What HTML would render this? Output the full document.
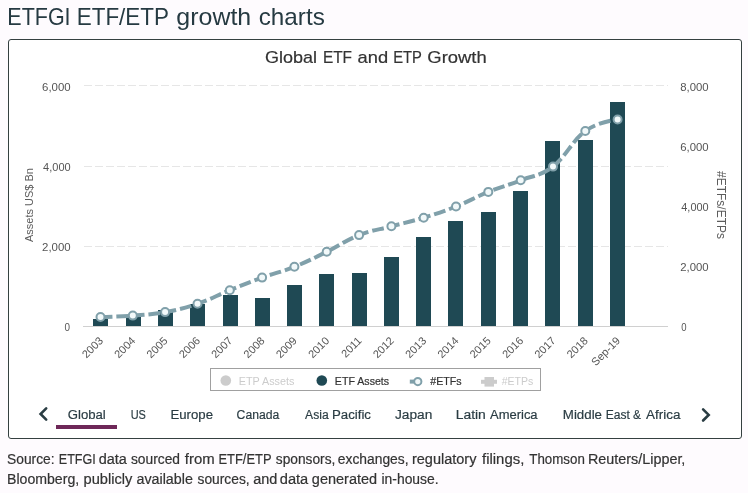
<!DOCTYPE html>
<html>
<head>
<meta charset="utf-8">
<style>
html,body{margin:0;padding:0;}
body{width:748px;height:493px;overflow:hidden;background:#fefbfe;position:relative;}
#box{position:absolute;left:8px;top:39px;width:732px;height:398px;border:1px solid #354040;border-radius:3px;background:#ffffff;}
svg{position:absolute;left:0;top:0;will-change:transform;font-family:"Liberation Sans",sans-serif;}
</style>
</head>
<body>
<div id="box"></div>
<svg width="748" height="493" viewBox="0 0 748 493">
<line x1="84" y1="85.5" x2="668" y2="85.5" stroke="#e6e6e6" stroke-width="1" stroke-dasharray="8,3"/>
<line x1="84" y1="166.5" x2="668" y2="166.5" stroke="#e6e6e6" stroke-width="1" stroke-dasharray="8,3"/>
<line x1="84" y1="246.5" x2="668" y2="246.5" stroke="#e6e6e6" stroke-width="1" stroke-dasharray="8,3"/>
<line x1="83" y1="326.5" x2="668" y2="326.5" stroke="#d0d0d0" stroke-width="1"/>
<rect x="93.0" y="319" width="15" height="7.0" fill="#1f4954"/>
<rect x="126.0" y="315" width="15" height="11.0" fill="#1f4954"/>
<rect x="158.0" y="310" width="15" height="16.0" fill="#1f4954"/>
<rect x="190.0" y="304" width="15" height="22.0" fill="#1f4954"/>
<rect x="223.0" y="295" width="15" height="31.0" fill="#1f4954"/>
<rect x="255.0" y="298" width="15" height="28.0" fill="#1f4954"/>
<rect x="287.0" y="285" width="15" height="41.0" fill="#1f4954"/>
<rect x="319.0" y="274" width="15" height="52.0" fill="#1f4954"/>
<rect x="352.0" y="273" width="15" height="53.0" fill="#1f4954"/>
<rect x="384.0" y="257" width="15" height="69.0" fill="#1f4954"/>
<rect x="416.0" y="237" width="15" height="89.0" fill="#1f4954"/>
<rect x="448.0" y="221" width="15" height="105.0" fill="#1f4954"/>
<rect x="481.0" y="212" width="15" height="114.0" fill="#1f4954"/>
<rect x="513.0" y="191" width="15" height="135.0" fill="#1f4954"/>
<rect x="545.0" y="141" width="15" height="185.0" fill="#1f4954"/>
<rect x="578.0" y="140" width="15" height="186.0" fill="#1f4954"/>
<rect x="610.0" y="102" width="15" height="224.0" fill="#1f4954"/>
<path fill="none" stroke="#80a0aa" stroke-width="4" stroke-dasharray="12,4" d="M 100.50 317.00 C 100.50 317.00 119.89 316.58 132.82 315.60 C 145.75 314.62 152.21 314.46 165.14 312.10 C 178.07 309.74 184.53 308.18 197.46 303.80 C 210.39 299.42 216.85 295.44 229.78 290.20 C 242.71 284.96 249.17 282.28 262.10 277.60 C 275.03 272.92 281.49 271.96 294.42 266.80 C 307.35 261.64 313.81 258.14 326.74 251.80 C 339.67 245.46 346.13 240.20 359.06 235.10 C 371.99 230.00 378.45 229.78 391.38 226.30 C 404.31 222.82 410.77 221.66 423.70 217.70 C 436.63 213.74 443.09 211.66 456.02 206.50 C 468.95 201.34 475.41 197.14 488.34 191.90 C 501.27 186.66 507.73 185.36 520.66 180.30 C 533.59 175.24 540.05 176.46 552.98 166.60 C 565.91 156.74 572.37 140.42 585.30 131.00 C 598.23 121.58 617.62 119.50 617.62 119.50"/>
<circle cx="100.5" cy="317" r="4" fill="#f2f9fa" stroke="#80a0aa" stroke-width="2"/>
<circle cx="132.8" cy="315.6" r="4" fill="#f2f9fa" stroke="#80a0aa" stroke-width="2"/>
<circle cx="165.1" cy="312.1" r="4" fill="#f2f9fa" stroke="#80a0aa" stroke-width="2"/>
<circle cx="197.5" cy="303.8" r="4" fill="#f2f9fa" stroke="#80a0aa" stroke-width="2"/>
<circle cx="229.8" cy="290.2" r="4" fill="#f2f9fa" stroke="#80a0aa" stroke-width="2"/>
<circle cx="262.1" cy="277.6" r="4" fill="#f2f9fa" stroke="#80a0aa" stroke-width="2"/>
<circle cx="294.4" cy="266.8" r="4" fill="#f2f9fa" stroke="#80a0aa" stroke-width="2"/>
<circle cx="326.7" cy="251.8" r="4" fill="#f2f9fa" stroke="#80a0aa" stroke-width="2"/>
<circle cx="359.1" cy="235.1" r="4" fill="#f2f9fa" stroke="#80a0aa" stroke-width="2"/>
<circle cx="391.4" cy="226.3" r="4" fill="#f2f9fa" stroke="#80a0aa" stroke-width="2"/>
<circle cx="423.7" cy="217.7" r="4" fill="#f2f9fa" stroke="#80a0aa" stroke-width="2"/>
<circle cx="456.0" cy="206.5" r="4" fill="#f2f9fa" stroke="#80a0aa" stroke-width="2"/>
<circle cx="488.3" cy="191.9" r="4" fill="#f2f9fa" stroke="#80a0aa" stroke-width="2"/>
<circle cx="520.7" cy="180.3" r="4" fill="#f2f9fa" stroke="#80a0aa" stroke-width="2"/>
<circle cx="553.0" cy="166.6" r="4" fill="#f2f9fa" stroke="#80a0aa" stroke-width="2"/>
<circle cx="585.3" cy="131" r="4" fill="#f2f9fa" stroke="#80a0aa" stroke-width="2"/>
<circle cx="617.6" cy="119.5" r="4" fill="#f2f9fa" stroke="#80a0aa" stroke-width="2"/>
<text font-size="11" fill="#5c5c5c" text-anchor="middle" transform="translate(33,205) rotate(-90)">Assets US$ Bn</text>
<text font-size="12" fill="#5c5c5c" text-anchor="middle" transform="translate(717,205) rotate(90)">#ETFs/ETPs</text>
<text font-size="11" fill="#555555" text-anchor="end" transform="translate(103.8,341.4) rotate(-45)">2003</text>
<text font-size="11" fill="#555555" text-anchor="end" transform="translate(136.1,341.4) rotate(-45)">2004</text>
<text font-size="11" fill="#555555" text-anchor="end" transform="translate(168.4,341.4) rotate(-45)">2005</text>
<text font-size="11" fill="#555555" text-anchor="end" transform="translate(200.8,341.4) rotate(-45)">2006</text>
<text font-size="11" fill="#555555" text-anchor="end" transform="translate(233.1,341.4) rotate(-45)">2007</text>
<text font-size="11" fill="#555555" text-anchor="end" transform="translate(265.4,341.4) rotate(-45)">2008</text>
<text font-size="11" fill="#555555" text-anchor="end" transform="translate(297.7,341.4) rotate(-45)">2009</text>
<text font-size="11" fill="#555555" text-anchor="end" transform="translate(330.0,341.4) rotate(-45)">2010</text>
<text font-size="11" fill="#555555" text-anchor="end" transform="translate(362.4,341.4) rotate(-45)">2011</text>
<text font-size="11" fill="#555555" text-anchor="end" transform="translate(394.7,341.4) rotate(-45)">2012</text>
<text font-size="11" fill="#555555" text-anchor="end" transform="translate(427.0,341.4) rotate(-45)">2013</text>
<text font-size="11" fill="#555555" text-anchor="end" transform="translate(459.3,341.4) rotate(-45)">2014</text>
<text font-size="11" fill="#555555" text-anchor="end" transform="translate(491.6,341.4) rotate(-45)">2015</text>
<text font-size="11" fill="#555555" text-anchor="end" transform="translate(524.0,341.4) rotate(-45)">2016</text>
<text font-size="11" fill="#555555" text-anchor="end" transform="translate(556.3,341.4) rotate(-45)">2017</text>
<text font-size="11" fill="#555555" text-anchor="end" transform="translate(588.6,341.4) rotate(-45)">2018</text>
<text font-size="11" fill="#555555" text-anchor="end" transform="translate(620.9,341.4) rotate(-45)">Sep-19</text>
<rect x="210.5" y="368.5" width="330" height="22" fill="none" stroke="#a0a0a0" stroke-width="1"/>
<circle cx="225.8" cy="380.5" r="5.3" fill="#cccccc"/>
<circle cx="321.8" cy="380.5" r="5.3" fill="#1f4954"/>
<line x1="409.8" y1="381.6" x2="425.8" y2="381.6" stroke="#80a0aa" stroke-width="4" stroke-dasharray="12,4"/>
<circle cx="417.8" cy="381.6" r="3.6" fill="#f2f9fa" stroke="#80a0aa" stroke-width="2"/>
<line x1="481" y1="381.8" x2="497" y2="381.8" stroke="#cccccc" stroke-width="4"/>
<rect x="484.5" y="377" width="9.5" height="9.6" fill="#cccccc"/>
<rect x="56" y="425" width="61" height="4" fill="#6e2758"/>
<polyline points="46.2,408.4 40.6,414 46.2,419.6" fill="none" stroke="#2a3d43" stroke-width="2.6" stroke-linecap="round"/>
<polyline points="703.1,409.3 708.7,414.9 703.1,420.5" fill="none" stroke="#2a3d43" stroke-width="2.6" stroke-linecap="round"/>
<text x="7.31" y="25" font-size="24" fill="#263a42" textLength="63.28" lengthAdjust="spacingAndGlyphs">ETFGI</text>
<text x="76.73" y="25" font-size="24" fill="#263a42" textLength="92.23" lengthAdjust="spacingAndGlyphs">ETF/ETP</text>
<text x="176.36" y="25" font-size="24" fill="#263a42" textLength="74.83" lengthAdjust="spacingAndGlyphs">growth</text>
<text x="258.69" y="25" font-size="24" fill="#263a42" textLength="66.09" lengthAdjust="spacingAndGlyphs">charts</text>
<text x="264.94" y="63.2" font-size="17" fill="#333333" stroke="#333333" stroke-width="0.2" textLength="51.96" lengthAdjust="spacingAndGlyphs">Global</text>
<text x="322.89" y="63.2" font-size="17" fill="#333333" stroke="#333333" stroke-width="0.2" textLength="29.11" lengthAdjust="spacingAndGlyphs">ETF</text>
<text x="357.52" y="63.2" font-size="17" fill="#333333" stroke="#333333" stroke-width="0.2" textLength="30.56" lengthAdjust="spacingAndGlyphs">and</text>
<text x="393.13" y="63.2" font-size="17" fill="#333333" stroke="#333333" stroke-width="0.2" textLength="28.69" lengthAdjust="spacingAndGlyphs">ETP</text>
<text x="427.32" y="63.2" font-size="17" fill="#333333" stroke="#333333" stroke-width="0.2" textLength="59.35" lengthAdjust="spacingAndGlyphs">Growth</text>
<text x="67.74" y="418.7" font-size="13.7" fill="#2a3c43" stroke="#2a3c43" stroke-width="0.2" textLength="38.02" lengthAdjust="spacingAndGlyphs">Global</text>
<text x="130.70" y="418.7" font-size="13.7" fill="#2a3c43" stroke="#2a3c43" stroke-width="0.2" textLength="15.21" lengthAdjust="spacingAndGlyphs">US</text>
<text x="170.44" y="418.7" font-size="13.7" fill="#2a3c43" stroke="#2a3c43" stroke-width="0.2" textLength="42.56" lengthAdjust="spacingAndGlyphs">Europe</text>
<text x="236.61" y="418.7" font-size="13.7" fill="#2a3c43" stroke="#2a3c43" stroke-width="0.2" textLength="42.65" lengthAdjust="spacingAndGlyphs">Canada</text>
<text x="305.10" y="418.7" font-size="13.7" fill="#2a3c43" stroke="#2a3c43" stroke-width="0.2" textLength="23.57" lengthAdjust="spacingAndGlyphs">Asia</text>
<text x="332.03" y="418.7" font-size="13.7" fill="#2a3c43" stroke="#2a3c43" stroke-width="0.2" textLength="38.98" lengthAdjust="spacingAndGlyphs">Pacific</text>
<text x="395.00" y="418.7" font-size="13.7" fill="#2a3c43" stroke="#2a3c43" stroke-width="0.2" textLength="37.30" lengthAdjust="spacingAndGlyphs">Japan</text>
<text x="455.69" y="418.7" font-size="13.7" fill="#2a3c43" stroke="#2a3c43" stroke-width="0.2" textLength="30.11" lengthAdjust="spacingAndGlyphs">Latin</text>
<text x="490.00" y="418.7" font-size="13.7" fill="#2a3c43" stroke="#2a3c43" stroke-width="0.2" textLength="47.59" lengthAdjust="spacingAndGlyphs">America</text>
<text x="562.83" y="418.7" font-size="13.7" fill="#2a3c43" stroke="#2a3c43" stroke-width="0.2" textLength="39.19" lengthAdjust="spacingAndGlyphs">Middle</text>
<text x="605.72" y="418.7" font-size="13.7" fill="#2a3c43" stroke="#2a3c43" stroke-width="0.2" textLength="24.12" lengthAdjust="spacingAndGlyphs">East</text>
<text x="633.04" y="418.7" font-size="13.7" fill="#2a3c43" stroke="#2a3c43" stroke-width="0.2" textLength="7.88" lengthAdjust="spacingAndGlyphs">&amp;</text>
<text x="646.00" y="418.7" font-size="13.7" fill="#2a3c43" stroke="#2a3c43" stroke-width="0.2" textLength="34.40" lengthAdjust="spacingAndGlyphs">Africa</text>
<text x="7.02" y="463.8" font-size="14" fill="#333333" stroke="#333333" stroke-width="0.2" textLength="47.52" lengthAdjust="spacingAndGlyphs">Source:</text>
<text x="58.80" y="463.8" font-size="14" fill="#333333" stroke="#333333" stroke-width="0.2" textLength="37.01" lengthAdjust="spacingAndGlyphs">ETFGI</text>
<text x="98.77" y="463.8" font-size="14" fill="#333333" stroke="#333333" stroke-width="0.2" textLength="28.09" lengthAdjust="spacingAndGlyphs">data</text>
<text x="130.91" y="463.8" font-size="14" fill="#333333" stroke="#333333" stroke-width="0.2" textLength="49.09" lengthAdjust="spacingAndGlyphs">sourced</text>
<text x="184.80" y="463.8" font-size="14" fill="#333333" stroke="#333333" stroke-width="0.2" textLength="29.87" lengthAdjust="spacingAndGlyphs">from</text>
<text x="218.48" y="463.8" font-size="14" fill="#333333" stroke="#333333" stroke-width="0.2" textLength="53.04" lengthAdjust="spacingAndGlyphs">ETF/ETP</text>
<text x="275.82" y="463.8" font-size="14" fill="#333333" stroke="#333333" stroke-width="0.2" textLength="59.55" lengthAdjust="spacingAndGlyphs">sponsors,</text>
<text x="337.81" y="463.8" font-size="14" fill="#333333" stroke="#333333" stroke-width="0.2" textLength="70.78" lengthAdjust="spacingAndGlyphs">exchanges,</text>
<text x="411.96" y="463.8" font-size="14" fill="#333333" stroke="#333333" stroke-width="0.2" textLength="64.51" lengthAdjust="spacingAndGlyphs">regulatory</text>
<text x="482.00" y="463.8" font-size="14" fill="#333333" stroke="#333333" stroke-width="0.2" textLength="42.30" lengthAdjust="spacingAndGlyphs">filings,</text>
<text x="529.30" y="463.8" font-size="14" fill="#333333" stroke="#333333" stroke-width="0.2" textLength="55.49" lengthAdjust="spacingAndGlyphs">Thomson</text>
<text x="587.97" y="463.8" font-size="14" fill="#333333" stroke="#333333" stroke-width="0.2" textLength="97.40" lengthAdjust="spacingAndGlyphs">Reuters/Lipper,</text>
<text x="6.99" y="483.8" font-size="14" fill="#333333" stroke="#333333" stroke-width="0.2" textLength="72.22" lengthAdjust="spacingAndGlyphs">Bloomberg,</text>
<text x="83.55" y="483.8" font-size="14" fill="#333333" stroke="#333333" stroke-width="0.2" textLength="48.84" lengthAdjust="spacingAndGlyphs">publicly</text>
<text x="136.48" y="483.8" font-size="14" fill="#333333" stroke="#333333" stroke-width="0.2" textLength="56.39" lengthAdjust="spacingAndGlyphs">available</text>
<text x="197.52" y="483.8" font-size="14" fill="#333333" stroke="#333333" stroke-width="0.2" textLength="52.09" lengthAdjust="spacingAndGlyphs">sources,</text>
<text x="253.27" y="483.8" font-size="14" fill="#333333" stroke="#333333" stroke-width="0.2" textLength="24.14" lengthAdjust="spacingAndGlyphs">and</text>
<text x="279.75" y="483.8" font-size="14" fill="#333333" stroke="#333333" stroke-width="0.2" textLength="28.51" lengthAdjust="spacingAndGlyphs">data</text>
<text x="311.87" y="483.8" font-size="14" fill="#333333" stroke="#333333" stroke-width="0.2" textLength="65.23" lengthAdjust="spacingAndGlyphs">generated</text>
<text x="381.51" y="483.8" font-size="14" fill="#333333" stroke="#333333" stroke-width="0.2" textLength="57.07" lengthAdjust="spacingAndGlyphs">in-house.</text>
<text x="238.72" y="385" font-size="11" fill="#cccccc" textLength="55.73" lengthAdjust="spacingAndGlyphs">ETP Assets</text>
<text x="334.83" y="385" font-size="11" fill="#333333" stroke="#333333" stroke-width="0.2" textLength="54.31" lengthAdjust="spacingAndGlyphs">ETF Assets</text>
<text x="430.33" y="385" font-size="11" fill="#333333" stroke="#333333" stroke-width="0.2" textLength="31.36" lengthAdjust="spacingAndGlyphs">#ETFs</text>
<text x="501.64" y="385" font-size="11" fill="#cccccc" textLength="31.57" lengthAdjust="spacingAndGlyphs">#ETPs</text>
<text x="42.06" y="91" font-size="11" fill="#555555" textLength="28.59" lengthAdjust="spacingAndGlyphs">6,000</text>
<text x="43.10" y="171" font-size="11" fill="#555555" textLength="27.53" lengthAdjust="spacingAndGlyphs">4,000</text>
<text x="42.06" y="251" font-size="11" fill="#555555" textLength="28.59" lengthAdjust="spacingAndGlyphs">2,000</text>
<text x="64.60" y="331" font-size="11" fill="#555555" textLength="5.51" lengthAdjust="spacingAndGlyphs">0</text>
<text x="680.27" y="91" font-size="11" fill="#555555" textLength="28.38" lengthAdjust="spacingAndGlyphs">8,000</text>
<text x="680.27" y="151" font-size="11" fill="#555555" textLength="28.38" lengthAdjust="spacingAndGlyphs">6,000</text>
<text x="681.30" y="211" font-size="11" fill="#555555" textLength="27.33" lengthAdjust="spacingAndGlyphs">4,000</text>
<text x="680.27" y="271" font-size="11" fill="#555555" textLength="28.38" lengthAdjust="spacingAndGlyphs">2,000</text>
<text x="681.30" y="331" font-size="11" fill="#555555" textLength="5.31" lengthAdjust="spacingAndGlyphs">0</text>
</svg>
</body>
</html>
